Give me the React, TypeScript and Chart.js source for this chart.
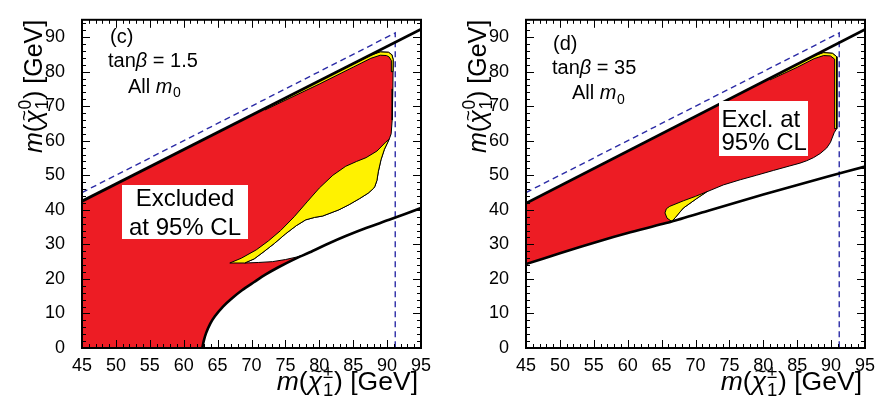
import React, { useEffect, useRef } from "react";
import { Chart, registerables } from "chart.js";

Chart.register(...registerables);

type Pt = [number, number];

// ---------- axes ----------
const xTicks = [45, 50, 55, 60, 65, 70, 75, 80, 85, 90, 95];
const yTicks = [0, 10, 20, 30, 40, 50, 60, 70, 80, 90];
const xMin = 45;
const xMax = 95;
const yMin = 0;
const yMax = 95;
const xMinorStep = 1;
const yMinorStep = 2;

// ---------- Z mass boundary (dashed) ----------
const mZ = 91.2;
const zBoundary: Pt[] = [[45, 45], [mZ, mZ], [mZ, 0]];

// ---------- panel (c): tanβ = 1.5 ----------
const cUpperLine: Pt[] = [[45, 42.5], [95, 92.3]];
const cLowerCurve: Pt[] = [
  [62.75, 0], [62.95, 2], [63.3, 4.3], [63.9, 7.0], [64.6, 9.2], [65.8, 12.0], [67.0, 14.2],
  [68.6, 16.7], [70.4, 19.1], [72.1, 21.3], [73.9, 23.3], [76.2, 25.6], [78.6, 27.7],
  [81.2, 30.1], [83.9, 32.4], [87, 34.8], [90.3, 37.1], [95, 40.5],
];
const cExcluded: Pt[] = [
  [45, 0], [45, 42.5], [72, 69.35], [80, 77.3], [85, 82.25], [87.6, 84.8], [89, 85.7],
  [90.2, 85.6], [90.7, 84.9], [90.9, 83.5], [90.85, 75], [90.75, 66], [90.6, 62], [90.3, 60.4],
  [89.6, 57.5], [89.1, 54.5], [88.7, 51], [88.5, 48.5], [88.2, 46.8], [88.0, 46.2],
  [87.2, 44.8], [85.9, 43.2], [84.4, 41.5], [82.9, 40], [80.5, 38.2], [79.3, 37.8],
  [78, 37.1], [76.6, 35.4], [75, 33], [73.4, 30.3], [71.7, 27.7], [70.4, 25.8], [69.0, 24.6],
  [71, 24.75], [73.1, 25.0], [75, 25.6], [76.6, 26.3], [77.8, 27.0], [78.6, 27.7],
  [76.2, 25.6], [73.9, 23.3], [72.1, 21.3], [70.4, 19.1], [68.6, 16.7], [67.0, 14.2],
  [65.8, 12.0], [64.6, 9.2], [63.9, 7.0], [63.3, 4.3], [62.95, 2], [62.75, 0],
];
const cYellow: Pt[] = [
  [66.8, 24.6], [68.5, 26.0], [70.7, 28.4], [72.5, 31.0], [74.3, 34.0], [76.3, 38.0],
  [78.2, 42.3], [80, 46.3], [82, 50], [83.9, 52.6], [85.5, 54], [86.9, 55.1], [88.5, 57],
  [89.8, 59.6], [90.3, 60.4], [89.6, 57.5], [89.1, 54.5], [88.7, 51], [88.5, 48.5],
  [88.2, 46.8], [88.0, 46.2], [87.2, 44.8], [85.9, 43.2], [84.4, 41.5], [82.9, 40],
  [80.5, 38.2], [79.3, 37.8], [78, 37.1], [76.6, 35.4], [75, 33], [73.4, 30.3],
  [71.7, 27.7], [70.4, 25.8], [69.0, 24.6],
];
const cYellowBand: Pt[] = [
  [72, 69.3], [80, 77.25], [85, 82.2], [87.6, 84.75], [89, 85.7], [90.2, 85.6], [90.7, 84.9],
  [90.9, 83.5], [90.87, 80], [90.6, 80], [90.63, 83.2], [90.3, 84.25], [89.9, 84.65],
  [89, 84.75], [87.6, 83.85], [85, 81.3], [80, 76.4], [72, 68.9],
];

// ---------- panel (d): tanβ = 35 ----------
const dUpperLine: Pt[] = [[45, 41.9], [95, 92.2]];
const dLowerLine: Pt[] = [
  [45, 24.3], [50, 27.4], [55.9, 31.0], [60, 33.3], [66.5, 36.6], [72, 39.8],
  [80, 44.4], [89.8, 49.8], [95, 52.5],
];
const dExcluded: Pt[] = [
  [45, 24.3], [45, 41.9], [82, 79.1], [85, 82.1], [87.5, 84.6], [88.9, 85.5], [90.2, 85.3],
  [90.85, 84.3], [90.85, 80], [90.8, 63.5], [90.45, 62.3], [89.9, 59.5], [89.35, 57.9],
  [88.4, 56.3], [87.4, 55.1], [86.4, 54.2], [85.4, 53.5], [83.9, 52.7], [81.5, 51.4],
  [79, 50], [76.6, 48.7], [74.1, 47.2], [71.65, 45.2], [70.2, 43.3], [68.2, 40.5],
  [67.0, 37.7], [66.5, 36.6], [60, 33.3], [55.9, 31.0], [50, 27.4],
];
const dYellow: Pt[] = [
  [66.5, 36.6], [65.8, 37.6], [65.5, 39.1], [65.7, 40.3], [66.2, 41.0], [68.2, 42.6],
  [70, 43.9], [71.65, 45.2], [70.2, 43.3], [68.2, 40.5], [67.0, 37.7],
];
const dYellowBand: Pt[] = [
  [81, 78.0], [85, 82.1], [87.5, 84.6], [88.9, 85.5], [90.2, 85.3], [90.85, 84.3], [90.85, 80],
  [90.8, 63.5], [90.5, 63.5], [90.55, 80], [90.5, 83.6], [89.9, 84.55], [88.9, 84.65],
  [87.5, 83.75], [85, 81.25], [81, 77.6],
];

// ---------- styles ----------
const FONT = '"Liberation Sans", Arial, Helvetica, sans-serif';
const RED = "#ed1c24";
const YELLOW = "#fff200";
const BLUE = "#2b2ba6";

type Seg = { t?: string; it?: boolean; tilde?: boolean; sup?: string; sub?: string };

function fontStr(size: number, it?: boolean) {
  return `${it ? "italic " : ""}${size}px ${FONT}`;
}

function segW(ctx: CanvasRenderingContext2D, s: Seg, size: number) {
  if (s.t !== undefined) {
    ctx.font = fontStr(size, s.it);
    return ctx.measureText(s.t).width;
  }
  ctx.font = fontStr(size * 0.7);
  const a = s.sup ? ctx.measureText(s.sup).width : 0;
  const b = s.sub ? ctx.measureText(s.sub).width : 0;
  return Math.max(a, b) + size * 0.06;
}

function drawRich(
  ctx: CanvasRenderingContext2D,
  segs: Seg[],
  x: number,
  y: number,
  size: number,
  align: "left" | "right" | "center"
) {
  const ws = segs.map((s) => segW(ctx, s, size));
  const total = ws.reduce((a, b) => a + b, 0);
  let cx = align === "right" ? x - total : align === "center" ? x - total / 2 : x;
  ctx.textAlign = "left";
  ctx.textBaseline = "alphabetic";
  ctx.fillStyle = "#000";
  segs.forEach((s, i) => {
    if (s.t !== undefined) {
      ctx.font = fontStr(size, s.it);
      ctx.fillText(s.t, cx, y);
      if (s.tilde) {
        ctx.font = fontStr(size * 0.75);
        const tw = ctx.measureText("~").width;
        ctx.fillText("~", cx + ws[i] / 2 - tw / 2 + size * 0.06, y - size * 0.47);
      }
    } else {
      ctx.font = fontStr(size * 0.7);
      if (s.sup) ctx.fillText(s.sup, cx + size * 0.03, y - size * 0.45);
      if (s.sub) ctx.fillText(s.sub, cx + size * 0.03, y + size * 0.24);
    }
    cx += ws[i];
  });
}

const xTitle: Seg[] = [
  { t: "m", it: true }, { t: "(" }, { t: "χ", it: true, tilde: true },
  { sup: "±", sub: "1" }, { t: ") [GeV]" },
];
const yTitle: Seg[] = [
  { t: "m", it: true }, { t: "(" }, { t: "χ", it: true, tilde: true },
  { sup: "0", sub: "1" }, { t: ") [GeV]" },
];

type PanelSpec = {
  key: string;
  upper: Pt[];
  lower: Pt[];
  lowerTension: number;
  excluded: Pt[];
  yellow: Pt[];
  band: Pt[];
  yAxisWidth: number;
  padRight: number;
  tag: string;
  tanb: string;
  labels: { tag: [number, number]; tanb: [number, number]; all: [number, number] };
  box: { rect: [number, number, number, number]; lines: string[]; x: number; base: number[]; align: "left" | "center" };
};

const panelC: PanelSpec = {
  key: "c",
  upper: cUpperLine,
  lower: cLowerCurve,
  lowerTension: 0.3,
  excluded: cExcluded,
  yellow: cYellow,
  band: cYellowBand,
  yAxisWidth: 82,
  padRight: 17,
  tag: "(c)",
  tanb: "1.5",
  labels: { tag: [110, 43], tanb: [108, 67], all: [128, 92.5] },
  box: { rect: [122, 185, 126, 54], lines: ["Excluded", "at 95% CL"], x: 185, base: [206, 234.5], align: "center" },
};

const panelD: PanelSpec = {
  key: "d",
  upper: dUpperLine,
  lower: dLowerLine,
  lowerTension: 0.2,
  excluded: dExcluded,
  yellow: dYellow,
  band: dYellowBand,
  yAxisWidth: 88,
  padRight: 11,
  tag: "(d)",
  tanb: "35",
  labels: { tag: [115, 50], tanb: [114, 74], all: [134, 99] },
  box: { rect: [281, 101, 89, 55], lines: ["Excl. at", "95% CL"], x: 283.5, base: [127, 150.3], align: "left" },
};

const toXY = (pts: Pt[]) => pts.map(([x, y]) => ({ x, y }));

function makeConfig(p: PanelSpec): any {
  const poly = (pts: Pt[], color: string, order: number) => ({
    data: toXY([...pts, pts[0]]),
    showLine: true,
    fill: "shape",
    backgroundColor: color,
    borderColor: "#000",
    borderWidth: 1,
    pointRadius: 0,
    tension: 0,
    order,
  });
  const line = (pts: Pt[], color: string, width: number, order: number, dash: number[] = [], tension = 0) => ({
    data: toXY(pts),
    showLine: true,
    fill: false,
    borderColor: color,
    borderWidth: width,
    borderDash: dash,
    pointRadius: 0,
    tension,
    order,
  });

  const framePlugin = {
    id: "frame-" + p.key,
    afterDatasetsDraw(chart: any) {
      const { ctx, chartArea: a, scales } = chart;
      const xs = scales.x;
      const ys = scales.y;
      ctx.save();
      ctx.strokeStyle = "#000";
      ctx.lineWidth = 1;
      ctx.beginPath();
      for (let v = xMin; v <= xMax + 1e-9; v += xMinorStep) {
        const px = Math.round(xs.getPixelForValue(v)) + 0.5;
        const L = xTicks.includes(v) ? 8 : 4;
        ctx.moveTo(px, a.bottom);
        ctx.lineTo(px, a.bottom - L);
        ctx.moveTo(px, a.top);
        ctx.lineTo(px, a.top + L);
      }
      for (let v = yMin; v <= yMax + 1e-9; v += yMinorStep) {
        const py = Math.round(ys.getPixelForValue(v)) + 0.5;
        const L = yTicks.includes(v) ? 8 : 4;
        ctx.moveTo(a.left, py);
        ctx.lineTo(a.left + L, py);
        ctx.moveTo(a.right, py);
        ctx.lineTo(a.right - L, py);
      }
      ctx.stroke();
      ctx.lineWidth = 2;
      ctx.strokeRect(a.left, a.top, a.right - a.left, a.bottom - a.top);

      // annotations
      drawRich(ctx, [{ t: p.tag }], p.labels.tag[0], p.labels.tag[1], 20, "left");
      drawRich(ctx, [{ t: "tan" }, { t: "β", it: true }, { t: " = " + p.tanb }], p.labels.tanb[0], p.labels.tanb[1], 20, "left");
      drawRich(ctx, [{ t: "All " }, { t: "m", it: true }, { sub: "0" }], p.labels.all[0], p.labels.all[1], 20, "left");

      const [bx, by, bw, bh] = p.box.rect;
      ctx.fillStyle = "#fff";
      ctx.fillRect(bx, by, bw, bh);
      p.box.lines.forEach((ln, i) => {
        drawRich(ctx, [{ t: ln }], p.box.x, p.box.base[i], 24, p.box.align);
      });

      // axis titles
      drawRich(ctx, xTitle, a.right - 3, 390, 26.5, "right");
      ctx.save();
      ctx.translate(a.left - 40, a.top);
      ctx.rotate(-Math.PI / 2);
      drawRich(ctx, yTitle, 0, 0, 25, "right");
      ctx.restore();
      ctx.restore();
    },
  };

  return {
    type: "scatter",
    data: {
      datasets: [
        poly(p.excluded, RED, 10),
        poly(p.yellow, YELLOW, 9),
        poly(p.band, YELLOW, 8),
        line(zBoundary, BLUE, 1.4, 3, [6, 4]),
        line(p.upper, "#000", 2.8, 2),
        line(p.lower, "#000", 2.6, 2, [], p.lowerTension),
      ],
    },
    options: {
      animation: false,
      responsive: false,
      events: [],
      layout: { padding: { left: 0, right: p.padRight, top: 12, bottom: 0 } },
      plugins: { legend: { display: false }, tooltip: { enabled: false } },
      scales: {
        x: {
          type: "linear",
          min: xMin,
          max: xMax,
          grid: { display: false },
          border: { display: false },
          afterBuildTicks: (s: any) => {
            s.ticks = xTicks.map((v) => ({ value: v }));
          },
          afterFit: (s: any) => {
            s.height = 55;
          },
          ticks: { autoSkip: false, maxRotation: 0, color: "#000", padding: -1, font: { family: FONT, size: 18 } },
        },
        y: {
          type: "linear",
          min: yMin,
          max: yMax,
          grid: { display: false },
          border: { display: false },
          afterBuildTicks: (s: any) => {
            s.ticks = yTicks.map((v) => ({ value: v }));
          },
          afterFit: (s: any) => {
            s.width = p.yAxisWidth;
          },
          ticks: { autoSkip: false, color: "#000", padding: 9, font: { family: FONT, size: 18 } },
        },
      },
    },
    plugins: [framePlugin],
  };
}

function Panel({ spec }: { spec: PanelSpec }) {
  const ref = useRef<HTMLCanvasElement>(null);
  useEffect(() => {
    const chart = new Chart(ref.current as HTMLCanvasElement, makeConfig(spec));
    return () => chart.destroy();
  }, [spec]);
  return (
    <div style={{ width: 438, height: 403, position: "relative" }}>
      <canvas ref={ref} width={438} height={403} style={{ display: "block" }} />
    </div>
  );
}

export default function App() {
  return (
    <div
      style={{
        position: "absolute",
        left: 0,
        top: 0,
        width: 876,
        height: 403,
        display: "flex",
        background: "#fff",
      }}
    >
      <Panel spec={panelC} />
      <Panel spec={panelD} />
    </div>
  );
}
